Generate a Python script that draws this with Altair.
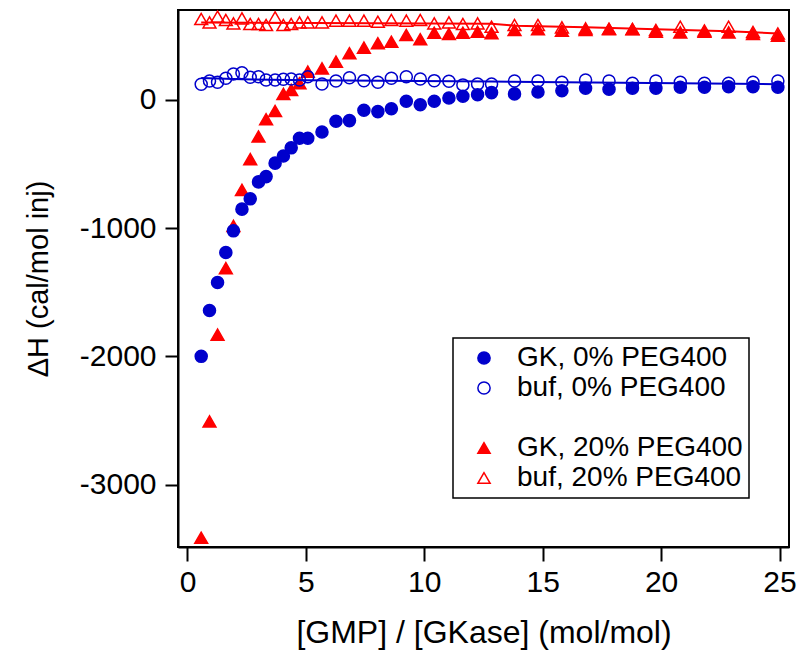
import altair as alt
import pandas as pd

# ---- data ----
x_vals = [0.58, 0.93, 1.27, 1.62, 1.94, 2.30, 2.65, 3.00, 3.32, 3.70,
          4.05, 4.38, 4.73, 5.08, 5.68, 6.27, 6.84, 7.45, 8.04, 8.61,
          9.24, 9.83, 10.42, 11.04, 11.63, 12.25, 12.84, 13.81, 14.80, 15.81,
          16.81, 17.80, 18.79, 19.78, 20.81, 21.83, 22.85, 23.88, 24.93]

gk0 = [-1999, -1642, -1424, -1191, -1022, -853, -773, -641, -600, -495,
       -439, -376, -301, -301, -252, -169, -164, -83, -94, -71,
       -13, -40, -13, 12, 26, 38, 54, 44, 59, 69,
       88, 80, 88, 88, 96, 96, 100, 100, 96]

buf0 = [119, 145, 135, 166, 199, 209, 173, 178, 152, 152,
        158, 160, 152, 178, 121, 145, 170, 147, 135, 166,
        178, 160, 147, 142, 114, 121, 121, 145, 145, 135,
        152, 145, 127, 145, 135, 127, 127, 135, 145]

gk20 = [-3411, -2505, -1830, -1312, -983, -703, -464, -288, -153, -89,
        44, 75, 127, 217, 243, 295, 360, 404, 438, 450,
        502, 469, 520, 510, 520, 528, 516, 541, 547, 536,
        541, 547, 547, 528, 523, 528, 523, 510, 497]

buf20 = [627, 601, 645, 619, 593, 632, 588, 588, 580, 640,
         580, 588, 601, 601, 601, 614, 614, 614, 606, 619,
         614, 619, 593, 601, 588, 593, 567, 580, 580, 562,
         554, 551, 549, 541, 567, 537, 567, 526, 514]

fit0_x = [0.58, 2.30, 5.08, 12.84, 24.93]
fit0_y = [168, 158, 150, 140, 119]
fit20_x = [0.58, 12.84, 13.81, 16.81, 19.78, 22.85, 24.93]
fit20_y = [600, 590, 575, 562, 548, 532, 515]

labels = ["GK, 0% PEG400", "buf, 0% PEG400", " ", "GK, 20% PEG400", "buf, 20% PEG400"]

BLUE = "#0000CC"
RED = "#FF0000"
FONT = "Liberation Sans"

# drawing order: open triangles, filled triangles, open circles, filled circles
order = [(labels[4], buf20), (labels[3], gk20), (labels[1], buf0), (labels[0], gk0)]
rows = []
for name, ys in order:
    for xv, yv in zip(x_vals, ys):
        rows.append({"x": xv, "y": yv, "series": name})
df = pd.DataFrame(rows)

fit_df = pd.concat([
    pd.DataFrame({"x": fit20_x, "y": fit20_y, "fit": "buf20"}),
    pd.DataFrame({"x": fit0_x, "y": fit0_y, "fit": "buf0"}),
])

xscale = alt.Scale(domain=[-0.4, 25.4], nice=False, zero=False)
yscale = alt.Scale(domain=[-3483, 697], nice=False, zero=False)

xaxis = alt.Axis(values=[0, 5, 10, 15, 20, 25], grid=False, tickSize=14, tickWidth=2,
                 tickColor="black", domainColor="black", domainWidth=2,
                 labelFontSize=30, labelPadding=6, labelColor="black", labelFont=FONT,
                 labelExpr="'' + datum.value",
                 title="[GMP] / [GKase] (mol/mol)", titleFontSize=32, titleFont=FONT,
                 titleFontWeight="normal", titleColor="black",
                 titleY=95, titleBaseline="alphabetic")
yaxis = alt.Axis(values=[-3000, -2000, -1000, 0], grid=False, tickSize=13, tickWidth=2,
                 tickColor="black", domainColor="black", domainWidth=2,
                 labelFontSize=30, labelPadding=9, labelColor="black", labelFont=FONT,
                 labelExpr="'' + datum.value",
                 title="ΔH (cal/mol inj)", titleFontSize=29, titleFont=FONT,
                 titleFontWeight="normal", titleColor="black",
                 titleX=-131, titleY=268.5, titleBaseline="alphabetic", titleAlign="center")

legend = alt.Legend(title=None, orient="none", legendX=275, legendY=328,
                    strokeColor="black", fillColor="white", padding=6,
                    labelFontSize=28, labelFont=FONT, labelColor="black", labelLimit=500,
                    symbolSize=150, symbolStrokeWidth=1.5, symbolOffset=11,
                    labelOffset=19, rowPadding=2)

sdom = labels
points = alt.Chart(df).mark_point(filled=True, opacity=1, strokeWidth=1.5).encode(
    x=alt.X("x:Q", scale=xscale, axis=xaxis),
    y=alt.Y("y:Q", scale=yscale, axis=yaxis),
    shape=alt.Shape("series:N", scale=alt.Scale(domain=sdom,
                    range=["circle", "circle", "circle", "triangle-up", "triangle-up"]), legend=legend),
    fill=alt.Fill("series:N", scale=alt.Scale(domain=sdom,
                  range=[BLUE, "transparent", "transparent", RED, "transparent"]), legend=legend),
    stroke=alt.Stroke("series:N", scale=alt.Scale(domain=sdom,
                      range=[BLUE, BLUE, "transparent", RED, RED]), legend=legend),
    size=alt.condition(alt.FieldOneOfPredicate(field="series", oneOf=[labels[3], labels[4]]),
                       alt.value(165), alt.value(145)),
    order=alt.value(0),
)

lines = alt.Chart(fit_df).mark_line(strokeWidth=2).encode(
    x=alt.X("x:Q", scale=xscale),
    y=alt.Y("y:Q", scale=yscale),
    detail="fit:N",
    color=alt.Color("fit:N", scale=alt.Scale(domain=["buf0", "buf20"], range=[BLUE, RED]), legend=None),
)

chart = alt.layer(points, lines).properties(
    width=611, height=537,
    autosize=alt.AutoSizeParams(type="none"),
    padding={"left": 178, "top": 10, "right": 13, "bottom": 104},
).configure(font=FONT).configure_view(stroke="black", strokeWidth=2).configure_legend(strokeWidth=1.5)

chart.save("out.html", embed_options={"renderer": "svg", "actions": False})
